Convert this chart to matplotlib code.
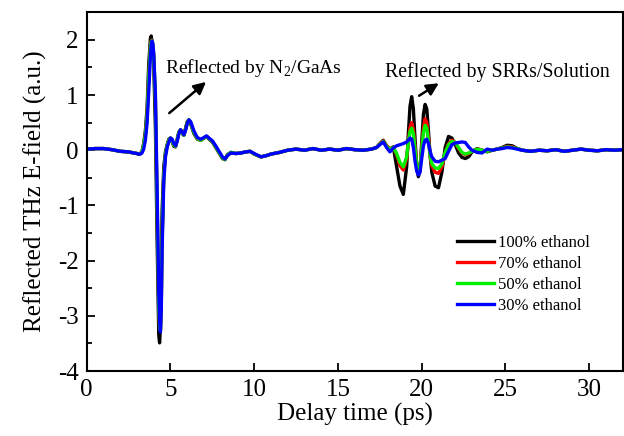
import matplotlib
matplotlib.use("Agg")
import matplotlib.pyplot as plt
from matplotlib.ticker import MultipleLocator

plt.rcParams['font.family'] = ['Liberation Serif', 'DejaVu Serif']
plt.rcParams['mathtext.fontset'] = 'custom'
plt.rcParams['mathtext.rm'] = 'Liberation Serif'
plt.rcParams['axes.unicode_minus'] = False

time_ps = [0.0, 0.5, 1.0, 1.5, 2.0, 2.5, 2.8, 3.0, 3.1, 3.2, 3.3, 3.4, 3.5, 3.6, 3.7, 3.8, 3.85, 3.9, 3.95,
           4.0, 4.1, 4.2, 4.3, 4.35, 4.4, 4.45, 4.5, 4.6, 4.7, 4.8, 4.9, 5.0, 5.1, 5.2, 5.3, 5.4, 5.5, 5.6,
           5.7, 5.8, 5.9, 6.0, 6.1, 6.2, 6.4, 6.6, 6.8, 7.0, 7.15, 7.3, 7.5, 7.7, 7.9, 8.1, 8.25, 8.4, 8.6,
           8.9, 9.2, 9.5, 9.75, 10.0, 10.4, 10.7, 11.0, 11.5, 12.0, 12.5, 13.0, 13.5, 14.0, 14.5, 15.0,
           15.5, 16.0, 16.5, 17.0, 17.3, 17.5, 17.7, 17.9, 18.1, 18.3, 18.5, 18.7, 18.9, 19.1, 19.2, 19.3,
           19.4, 19.5, 19.6, 19.7, 19.8, 19.9, 20.0, 20.1, 20.2, 20.3, 20.4, 20.5, 20.6, 20.8, 21.0, 21.2,
           21.4, 21.6, 21.8, 22.0, 22.2, 22.4, 22.6, 22.8, 23.0, 23.3, 23.6, 23.9, 24.2, 24.5, 24.8, 25.1,
           25.4, 25.7, 26.0, 26.5, 27.0, 27.5, 28.0, 28.5, 29.0, 29.5, 30.0, 30.5, 31.0, 31.5, 32.0]

e100 = [0.02, 0.03, 0.03, 0.01, -0.02, -0.03, -0.05, -0.06, -0.07, -0.06, -0.02, 0.12, 0.35, 0.75, 1.55, 2.02,
        2.07, 1.95, 1.8, 1.55, 0.4, -1.6, -3.35, -3.49, -3.2, -2.2, -1.1, -0.3, -0.03, 0.1, 0.2, 0.22, 0.15,
        0.07, 0.06, 0.2, 0.33, 0.37, 0.3, 0.27, 0.4, 0.52, 0.55, 0.48, 0.3, 0.2, 0.18, 0.22, 0.25, 0.2,
        0.15, 0.05, -0.05, -0.15, -0.17, -0.08, -0.04, -0.06, -0.05, -0.03, -0.02, -0.07, -0.12, -0.1,
        -0.07, -0.04, 0.0, 0.02, 0.0, 0.03, 0.0, 0.02, 0.0, 0.03, 0.01, 0.0, 0.02, 0.05, 0.12, 0.18, 0.08,
        0.02, 0.06, -0.3, -0.65, -0.8, -0.3, 0.3, 0.8, 0.97, 0.75, 0.2, -0.3, -0.48, -0.35, 0.15, 0.65,
        0.83, 0.75, 0.35, -0.1, -0.4, -0.65, -0.68, -0.4, 0.05, 0.25, 0.22, 0.1, -0.05, -0.13, -0.15, -0.12,
        -0.03, 0.03, 0.0, -0.03, 0.0, 0.02, 0.05, 0.09, 0.08, 0.03, 0.0, -0.02, 0.0, -0.01, 0.01, -0.02,
        0.0, 0.02, 0.0, -0.01, 0.01, 0.0, 0.01]

e70 = [0.02, 0.03, 0.03, 0.01, -0.02, -0.03, -0.05, -0.06, -0.07, -0.06, -0.03, 0.08, 0.28, 0.62, 1.3, 1.88,
       1.98, 2.0, 1.9, 1.7, 0.9, -0.9, -2.8, -3.22, -3.27, -2.8, -1.6, -0.45, -0.08, 0.08, 0.18, 0.22, 0.17,
       0.09, 0.07, 0.18, 0.32, 0.37, 0.31, 0.27, 0.38, 0.5, 0.55, 0.5, 0.32, 0.21, 0.18, 0.22, 0.25, 0.21,
       0.16, 0.06, -0.04, -0.14, -0.17, -0.09, -0.04, -0.06, -0.05, -0.03, -0.02, -0.07, -0.12, -0.1,
       -0.07, -0.04, 0.0, 0.02, 0.0, 0.03, 0.0, 0.02, 0.0, 0.03, 0.01, 0.0, 0.02, 0.05, 0.12, 0.17, 0.08,
       0.03, 0.05, -0.08, -0.28, -0.36, -0.15, 0.15, 0.42, 0.5, 0.38, 0.05, -0.25, -0.38, -0.3, 0.05, 0.4,
       0.57, 0.5, 0.22, -0.1, -0.28, -0.4, -0.42, -0.3, -0.05, 0.12, 0.18, 0.14, 0.03, -0.05, -0.08, -0.06,
       -0.02, 0.02, 0.0, -0.02, 0.0, 0.02, 0.04, 0.07, 0.06, 0.03, 0.0, -0.02, 0.0, -0.01, 0.01, -0.02,
       0.0, 0.02, 0.0, -0.01, 0.01, 0.0, 0.01]

e50 = [0.02, 0.03, 0.03, 0.01, -0.02, -0.03, -0.05, -0.06, -0.07, -0.06, -0.03, 0.08, 0.27, 0.6, 1.28, 1.86,
       1.97, 1.99, 1.9, 1.7, 0.9, -0.9, -2.8, -3.2, -3.27, -2.8, -1.6, -0.45, -0.08, 0.08, 0.18, 0.22, 0.17,
       0.09, 0.07, 0.18, 0.32, 0.37, 0.31, 0.27, 0.38, 0.5, 0.55, 0.5, 0.32, 0.21, 0.18, 0.22, 0.25, 0.21,
       0.16, 0.06, -0.04, -0.14, -0.17, -0.09, -0.04, -0.06, -0.05, -0.03, -0.02, -0.07, -0.12, -0.1,
       -0.07, -0.04, 0.0, 0.02, 0.0, 0.03, 0.0, 0.02, 0.0, 0.03, 0.01, 0.0, 0.02, 0.05, 0.11, 0.16, 0.07,
       0.02, 0.05, -0.06, -0.22, -0.3, -0.12, 0.14, 0.34, 0.4, 0.3, 0.0, -0.28, -0.38, -0.3, 0.02, 0.32,
       0.45, 0.4, 0.16, -0.1, -0.24, -0.32, -0.33, -0.25, -0.04, 0.1, 0.16, 0.14, 0.05, -0.04, -0.07, -0.05,
       -0.02, 0.02, 0.0, -0.02, 0.0, 0.02, 0.04, 0.06, 0.05, 0.03, 0.0, -0.02, 0.0, -0.01, 0.01, -0.02,
       0.0, 0.02, 0.0, -0.01, 0.01, 0.0, 0.01]

e30 = [0.02, 0.03, 0.03, 0.01, -0.02, -0.03, -0.05, -0.06, -0.07, -0.07, -0.05, 0.02, 0.18, 0.48, 1.05, 1.7,
       1.9, 1.98, 1.92, 1.75, 1.0, -0.7, -2.6, -3.1, -3.29, -2.9, -1.8, -0.55, -0.12, 0.05, 0.15, 0.22, 0.2,
       0.12, 0.08, 0.16, 0.3, 0.37, 0.33, 0.28, 0.36, 0.48, 0.55, 0.52, 0.35, 0.23, 0.2, 0.23, 0.26, 0.22,
       0.17, 0.08, -0.02, -0.12, -0.16, -0.1, -0.05, -0.06, -0.05, -0.03, -0.02, -0.06, -0.12, -0.1,
       -0.07, -0.04, 0.0, 0.02, 0.0, 0.03, 0.0, 0.02, 0.0, 0.03, 0.01, 0.0, 0.02, 0.05, 0.1, 0.15, 0.05,
       -0.03, 0.04, 0.08, 0.1, 0.12, 0.15, 0.18, 0.22, 0.2, 0.05, -0.2, -0.38, -0.45, -0.4, -0.15, 0.08,
       0.18, 0.2, 0.12, -0.02, -0.12, -0.2, -0.21, -0.18, -0.15, -0.02, 0.1, 0.13, 0.14, 0.15, 0.14, 0.06,
       0.0, -0.04, -0.05, 0.02, 0.0, 0.02, 0.03, 0.05, 0.04, 0.02, 0.0, -0.02, 0.0, -0.01, 0.01, -0.02,
       0.0, 0.02, 0.0, -0.01, 0.01, 0.0, 0.01]

series_labels = ['100% ethanol', '70% ethanol', '50% ethanol', '30% ethanol']
series_colors = ['#000000', '#ff0000', '#00ee00', '#0000ff']

fig = plt.figure(figsize=(6.24, 4.36), dpi=100)
ax = fig.add_axes([0.139, 0.149, 0.859, 0.823])

for vals, lab, col in zip([e100, e70, e50, e30], series_labels, series_colors):
    ax.plot(time_ps, vals, color=col, lw=2.4, label=lab, solid_joinstyle='round')

ax.set_xlim(0, 32)
ax.set_ylim(-4, 2.5)
ax.xaxis.set_major_locator(MultipleLocator(5))
ax.yaxis.set_major_locator(MultipleLocator(1))
ax.yaxis.set_minor_locator(MultipleLocator(0.5))
ax.tick_params(which='both', direction='in', top=False, right=False, labelsize=18, width=1.3)
ax.tick_params(which='major', length=6, pad=6)
ax.tick_params(which='minor', length=3.5)
ax.tick_params(axis='x', which='minor', bottom=False)
for s in ax.spines.values():
    s.set_linewidth(1.5)

ax.set_xlabel('Delay time (ps)', fontsize=18, labelpad=1)
ax.set_ylabel('Reflected THz E-field (a.u.)', fontsize=18, labelpad=8)

ax.text(4.67, 1.49, 'Reflected by N$_2$/GaAs', fontsize=14, ha='left', va='center')
ax.annotate('', xy=(7.25, 1.27), xytext=(4.8, 0.64),
            arrowprops=dict(arrowstyle='-|>', color='black', lw=1.8, mutation_scale=18))
ax.text(17.78, 1.42, 'Reflected by SRRs/Solution', fontsize=14.3, ha='left', va='center')
ax.annotate('', xy=(21.16, 1.24), xytext=(19.7, 0.96),
            arrowprops=dict(arrowstyle='-|>', color='black', lw=1.8, mutation_scale=18))

ax.legend(loc='upper left', bbox_to_anchor=(0.691, 0.379), frameon=False, fontsize=12,
          handlelength=2.2, handletextpad=0.25, labelspacing=0.3, borderpad=0, borderaxespad=0)

fig.savefig('out.png', dpi=100)
